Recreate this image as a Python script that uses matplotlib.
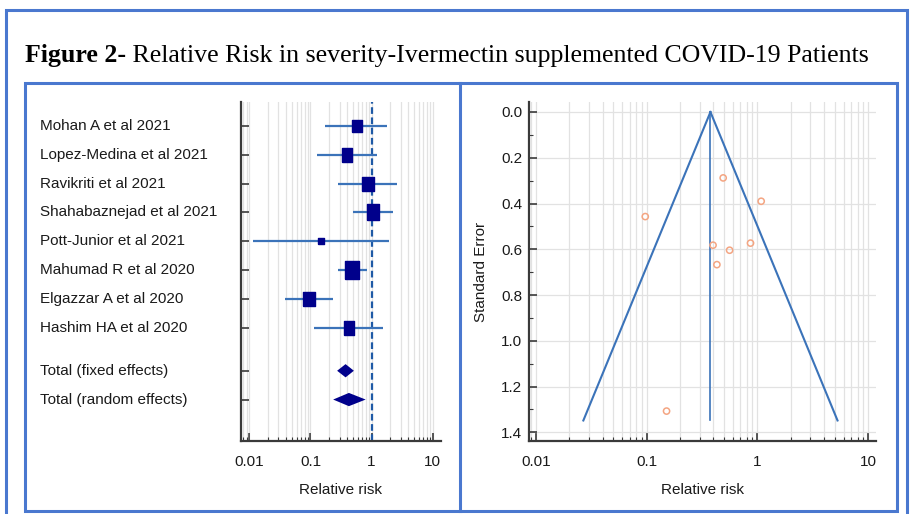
import numpy as np
import matplotlib
matplotlib.use("Agg")
import matplotlib.pyplot as plt
from matplotlib import font_manager
from matplotlib.patches import Rectangle
from matplotlib.lines import Line2D
from matplotlib.ticker import LogLocator, FixedLocator, MultipleLocator, NullFormatter
import matplotlib.transforms as mtransforms

# ---------------- data ----------------
studies = ["Mohan A et al 2021", "Lopez-Medina et al 2021", "Ravikriti et al 2021",
           "Shahabaznejad et al 2021", "Pott-Junior et al 2021", "Mahumad R et al 2020",
           "Elgazzar A et al 2020", "Hashim HA et al 2020"]
rr = [0.57, 0.39, 0.86, 1.06, 0.148, 0.48, 0.096, 0.42]
ci_low = [0.171, 0.126, 0.28, 0.50, 0.0115, 0.28, 0.039, 0.115]
ci_high = [1.80, 1.21, 2.60, 2.26, 1.90, 0.85, 0.23, 1.55]
weight = [10.4, 12.1, 13.8, 15.8, 2.8, 19.3, 13.8, 12.1]

pooled_labels = ["Total (fixed effects)", "Total (random effects)"]
pooled_rr = [0.375, 0.425]
pooled_low = [0.273, 0.235]
pooled_high = [0.513, 0.80]

funnel_rr = [0.56, 0.397, 0.865, 1.08, 0.151, 0.49, 0.097, 0.43]
funnel_se = [0.604, 0.582, 0.573, 0.39, 1.307, 0.288, 0.457, 0.667]
funnel_center = 0.376
funnel_se_max = 1.348

x_ticks = [0.01, 0.1, 1, 10]
x_tick_labels = ["0.01", "0.1", "1", "10"]
se_ticks = [0.0, 0.2, 0.4, 0.6, 0.8, 1.0, 1.2, 1.4]
se_tick_labels = ["0.0", "0.2", "0.4", "0.6", "0.8", "1.0", "1.2", "1.4"]

title_bold = "Figure 2-"
title_rest = " Relative Risk in severity-Ivermectin supplemented COVID-19 Patients"

# ---------------- styling ----------------
W, H = 910, 514
names = {f.name for f in font_manager.fontManager.ttflist}
if "Liberation Sans Narrow" in names:
    SANS, FS = "Liberation Sans Narrow", 13
else:
    SANS, FS = "Liberation Sans", 11
plt.rcParams["font.family"] = [SANS, "DejaVu Sans"]

BORDER = "#4a78cf"
NAVY = "#00008b"
CI = "#3b73b9"
SPINE = "#3a3a3a"
GRID = "#e2e2e2"
ORANGE = "#f4a582"
TXT = "#1a1a1a"

fig = plt.figure(figsize=(W / 100, H / 100), dpi=100)


def fx(x):
    return x / W


def fy(y):
    return 1 - y / H


# borders
fig.add_artist(Rectangle((fx(6), fy(530)), fx(907) - fx(6), fy(10) - fy(530),
                         transform=fig.transFigure, fill=False, ec=BORDER, lw=2.2))
fig.add_artist(Rectangle((fx(25), fy(511)), fx(897) - fx(25), fy(83) - fy(511),
                         transform=fig.transFigure, fill=False, ec=BORDER, lw=2.2))
fig.add_artist(Line2D([fx(460), fx(460)], [fy(83), fy(511)], transform=fig.transFigure,
                      color=BORDER, lw=2.2))


def style_axis(ax):
    for s in ("top", "right"):
        ax.spines[s].set_visible(False)
    for s in ("left", "bottom"):
        ax.spines[s].set_color(SPINE)
        ax.spines[s].set_linewidth(1.6)
    ax.set_xscale("log")
    ax.xaxis.set_major_locator(FixedLocator(x_ticks))
    ax.set_xticklabels(x_tick_labels)
    ax.xaxis.set_minor_locator(LogLocator(base=10, subs=np.arange(2, 10)))
    ax.xaxis.set_minor_formatter(NullFormatter())
    ax.tick_params(axis="both", which="major", direction="in", length=6, width=1.2,
                   color=SPINE, labelsize=FS, labelcolor=TXT)
    ax.tick_params(axis="x", which="major", pad=10)
    ax.tick_params(axis="y", which="major", pad=5)
    ax.tick_params(axis="both", which="minor", direction="in", length=3, width=0.8,
                   color=SPINE)
    ax.grid(True, which="both", axis="x", color=GRID, lw=0.9, zorder=0)
    ax.set_axisbelow(True)


# ---------------- forest plot ----------------
ax1 = fig.add_axes([fx(241), fy(441.3), fx(440.7) - fx(241), fy(101.7) - fy(441.3)])
style_axis(ax1)
ax1.set_xlim(10 ** -2.136, 10 ** 1.13)
y_rows = np.arange(len(studies), dtype=float)
y_pooled = np.array([len(studies) + 0.5, len(studies) + 1.5])
ax1.set_ylim(len(studies) + 2.95, -0.844)
ax1.set_yticks(list(y_rows) + list(y_pooled))
ax1.set_yticklabels([])
ax1.yaxis.set_minor_locator(FixedLocator([]))

ax1.axvline(1, color="#1f5aa6", ls=(0, (3, 1.6)), lw=1.6, zorder=2)
ax1.hlines(y_rows, ci_low, ci_high, color=CI, lw=1.6, zorder=3)
rect_marker = [(-0.39, -0.5), (0.39, -0.5), (0.39, 0.5), (-0.39, 0.5), (-0.39, -0.5)]
for xi, yi, wi in zip(rr, y_rows, weight):
    ax1.plot([xi], [yi], marker=rect_marker, ms=2.9 * np.sqrt(wi), color=NAVY,
             mec=NAVY, ls="none", zorder=4)
for lo, est, hi, yi in zip(pooled_low, pooled_rr, pooled_high, y_pooled):
    h = 0.23
    ax1.fill([lo, est, hi, est], [yi, yi - h, yi, yi + h], color=NAVY, lw=0, zorder=4)

blend = mtransforms.blended_transform_factory(fig.transFigure, ax1.transData)
for name, yi in zip(studies + pooled_labels, list(y_rows) + list(y_pooled)):
    ax1.text(fx(40), yi, name, transform=blend, ha="left", va="center",
             fontsize=FS, color=TXT)
ax1.set_xlabel("Relative risk", fontsize=FS, labelpad=10, color=TXT)

# ---------------- funnel plot ----------------
ax2 = fig.add_axes([fx(529), fy(441.3), fx(876) - fx(529), fy(101.7) - fy(441.3)])
style_axis(ax2)
ax2.set_xlim(10 ** -2.063, 10 ** 1.07)
ax2.set_ylim(1.439, -0.045)
ax2.yaxis.set_major_locator(FixedLocator(se_ticks))
ax2.set_yticklabels(se_tick_labels)
ax2.yaxis.set_minor_locator(MultipleLocator(0.1))
ax2.grid(True, which="major", axis="y", color=GRID, lw=0.9, zorder=0)

se_line = np.array([0.0, funnel_se_max])
ax2.plot(np.exp(np.log(funnel_center) - 1.96 * se_line), se_line, color=CI, lw=1.5, zorder=3)
ax2.plot(np.exp(np.log(funnel_center) + 1.96 * se_line), se_line, color=CI, lw=1.5, zorder=3)
ax2.plot([funnel_center, funnel_center], se_line, color=CI, lw=1.2, zorder=3)
ax2.scatter(funnel_rr, funnel_se, s=20, facecolors="none", edgecolors=ORANGE,
            linewidths=1.1, zorder=4)
ax2.set_xlabel("Relative risk", fontsize=FS, labelpad=10, color=TXT)
ax2.set_ylabel("Standard Error", fontsize=FS, labelpad=9, color=TXT)

# ---------------- title (fit to width) ----------------
t1 = fig.text(fx(25), fy(62), title_bold, fontsize=28, fontweight="bold",
              family=["Liberation Serif", "DejaVu Serif"], ha="left", va="baseline")
t2 = fig.text(fx(25), fy(62), title_rest, fontsize=28,
              family=["Liberation Serif", "DejaVu Serif"], ha="left", va="baseline")
fig.canvas.draw()
r = fig.canvas.get_renderer()
w_total = t1.get_window_extent(r).width + t2.get_window_extent(r).width
scale = (868 - 25) / w_total
t1.set_fontsize(28 * scale)
t2.set_fontsize(28 * scale)
fig.canvas.draw()
w1 = t1.get_window_extent(r).width
t2.set_position((fx(25 + w1), fy(62)))

fig.savefig("out.png", dpi=100)
